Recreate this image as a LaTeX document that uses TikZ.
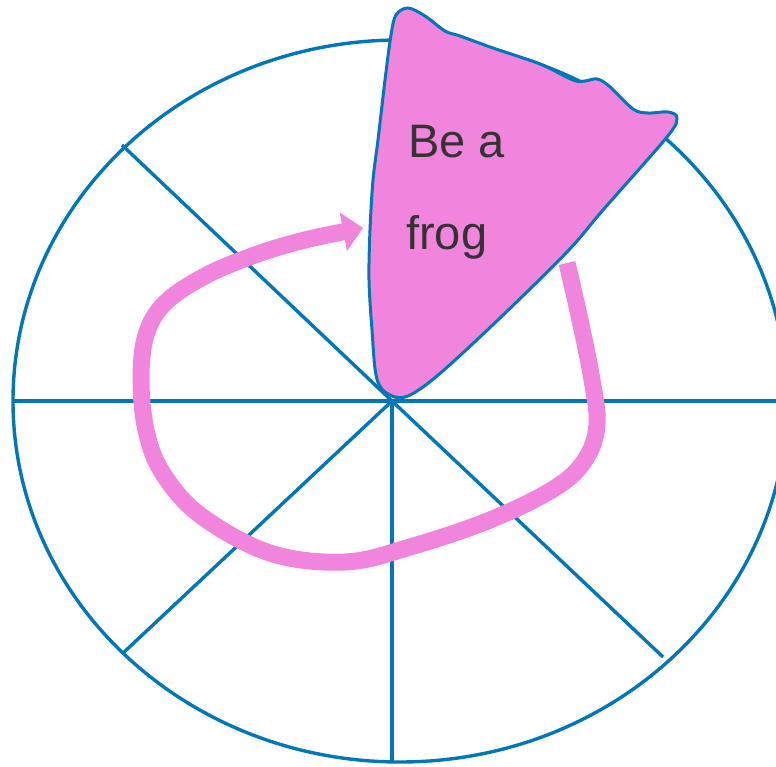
\documentclass[tikz,border=0pt]{standalone}
\usepackage{fontspec}
\setmainfont{Liberation Sans}
\usetikzlibrary{arrows.meta}
\definecolor{wheelblue}{RGB}{0,119,182}
\definecolor{frogpink}{RGB}{241,132,220}
\definecolor{txtgray}{RGB}{51,51,51}
\begin{document}
\begin{tikzpicture}[x=1pt,y=-1pt,
  wheelline/.style={draw=wheelblue,line width=3.4pt},
  blobshape/.style={draw=wheelblue,line width=3pt,fill=frogpink,line join=round},
  loopline/.style={draw=frogpink,line width=17pt,line cap=butt,-{Triangle[length=20pt,width=38pt]}},
  label/.style={anchor=base west,inner sep=0pt,text=txtgray,font=\fontsize{47}{56}\selectfont}]
\useasboundingbox (0,0) rectangle (776,767);
\clip (0,0) rectangle (776,767);
\coordinate (C) at (392,401);
\coordinate (E) at (400,401);
\coordinate (L) at (13,401);
\coordinate (R) at (790,401);
\coordinate (D) at (392,762);
\coordinate (UL) at (122,145);
\coordinate (LL) at (122,654);
\coordinate (LR) at (663,657);
\draw[wheelline] (E) ellipse [x radius=387pt, y radius=361pt];
\draw[wheelline] (L) -- (R);
\draw[wheelline] (C) -- (D);
\draw[wheelline] (C) -- (UL);
\draw[wheelline] (C) -- (LL);
\draw[wheelline] (C) -- (LR);
\draw[blobshape] plot[smooth cycle, tension=0.55] coordinates {
 (408,8) (425,16) (445,31) (460,36) (493,48) (540,64) (573,80) (585,81) (597,79) (609,86) (633,109) (648,113) (668,112) (677,118) (667,137) (603,210) (567,252) (500,318) (437,376) (405,397) (385,392) (376,375) (372,330) (369,280) (370,230) (373,180) (378,140) (385,80) (391,35) (396,15)};
\draw[loopline] plot[smooth, tension=0.6] coordinates {
 (567,263) (580,320) (592,380) (597,425) (585,460) (555,488) (490,520) (410,547) (345,562) (270,553) (200,515) (162,472) (146,430) (141,380) (146,335) (165,303) (205,276) (255,255) (305,240) (363,228)};
\node[label] (t1) at (408,158) {Be a};
\node[label] (t2) at (406,250) {frog};
\end{tikzpicture}
\end{document}
